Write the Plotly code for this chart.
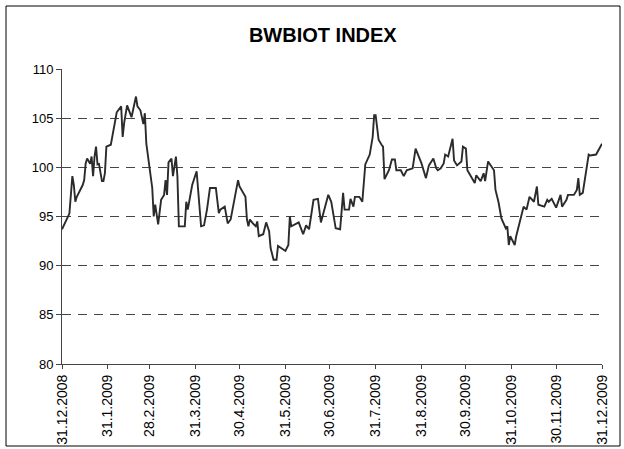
import plotly.graph_objects as go

# Kursverlauf BWBIOT INDEX
dates = [
    "2008-12-31", "2009-01-05", "2009-01-07", "2009-01-08", "2009-01-09", "2009-01-10",
    "2009-01-13", "2009-01-14", "2009-01-15", "2009-01-16", "2009-01-17", "2009-01-18",
    "2009-01-19", "2009-01-20", "2009-01-21", "2009-01-22", "2009-01-23", "2009-01-24",
    "2009-01-25", "2009-01-27", "2009-01-28", "2009-01-29", "2009-01-30", "2009-02-02",
    "2009-02-04", "2009-02-06", "2009-02-09", "2009-02-10", "2009-02-11", "2009-02-13",
    "2009-02-16", "2009-02-19", "2009-02-20", "2009-02-22", "2009-02-24", "2009-02-25",
    "2009-02-26", "2009-03-02", "2009-03-03", "2009-03-04", "2009-03-06", "2009-03-07",
    "2009-03-08", "2009-03-10", "2009-03-11", "2009-03-12", "2009-03-13", "2009-03-15",
    "2009-03-16", "2009-03-18", "2009-03-19", "2009-03-20", "2009-03-24", "2009-03-25",
    "2009-03-26", "2009-03-29", "2009-04-01", "2009-04-04", "2009-04-06", "2009-04-08",
    "2009-04-10", "2009-04-14", "2009-04-16", "2009-04-17", "2009-04-20", "2009-04-22",
    "2009-04-24", "2009-04-29", "2009-04-30", "2009-05-04", "2009-05-05", "2009-05-06",
    "2009-05-07", "2009-05-09", "2009-05-11", "2009-05-12", "2009-05-13", "2009-05-16",
    "2009-05-18", "2009-05-20", "2009-05-21", "2009-05-23", "2009-05-25", "2009-05-26",
    "2009-05-28", "2009-05-31", "2009-06-02", "2009-06-03", "2009-06-04", "2009-06-07",
    "2009-06-09", "2009-06-12", "2009-06-14", "2009-06-16", "2009-06-19", "2009-06-22",
    "2009-06-24", "2009-06-29", "2009-07-01", "2009-07-04", "2009-07-07", "2009-07-09",
    "2009-07-10", "2009-07-13", "2009-07-14", "2009-07-16", "2009-07-17", "2009-07-20",
    "2009-07-22", "2009-07-24", "2009-07-27", "2009-07-29", "2009-07-30", "2009-07-31",
    "2009-08-02", "2009-08-04", "2009-08-05", "2009-08-06", "2009-08-09", "2009-08-11",
    "2009-08-13", "2009-08-14", "2009-08-17", "2009-08-19", "2009-08-21", "2009-08-25",
    "2009-08-27", "2009-08-31", "2009-09-03", "2009-09-05", "2009-09-08", "2009-09-10",
    "2009-09-11", "2009-09-13", "2009-09-15", "2009-09-16", "2009-09-18", "2009-09-21",
    "2009-09-22", "2009-09-24", "2009-09-27", "2009-09-28", "2009-09-30", "2009-10-01",
    "2009-10-04", "2009-10-06", "2009-10-07", "2009-10-10", "2009-10-12", "2009-10-13",
    "2009-10-15", "2009-10-19", "2009-10-20", "2009-10-22", "2009-10-24", "2009-10-27",
    "2009-10-28", "2009-10-29", "2009-10-30", "2009-11-02", "2009-11-03", "2009-11-04",
    "2009-11-06", "2009-11-08", "2009-11-10", "2009-11-12", "2009-11-15", "2009-11-17",
    "2009-11-18", "2009-11-22", "2009-11-24", "2009-11-25", "2009-11-27", "2009-11-30",
    "2009-12-03", "2009-12-04", "2009-12-07", "2009-12-08", "2009-12-12", "2009-12-14",
    "2009-12-15", "2009-12-16", "2009-12-18", "2009-12-22", "2009-12-23", "2009-12-27",
    "2009-12-31",
]
values = [
    93.7, 95.3, 99.1, 98.2, 96.5, 97.0,
    97.9, 98.2, 98.7, 100.4, 100.9, 100.6,
    100.35, 101.1, 99.1, 101.1, 102.1, 100.3,
    100.35, 98.6, 98.6, 99.4, 102.1, 102.3,
    104.1, 105.6, 106.2, 103.1, 104.5, 106.3,
    105.1, 107.2, 106.2, 105.8, 104.4, 105.5,
    102.4, 97.9, 95.0, 96.2, 94.2, 95.35,
    96.7, 97.2, 98.7, 97.2, 100.5, 100.9,
    99.1, 101.1, 99.1, 94.0, 94.0, 96.5,
    95.7, 98.2, 99.6, 94.0, 94.1, 95.7,
    97.9, 97.9, 95.35, 95.7, 96.0, 94.3,
    94.7, 98.7, 98.05, 97.0, 94.7, 94.0,
    94.7, 94.3, 94.0, 94.5, 93.0, 93.2,
    94.4, 93.5, 91.8, 90.6, 90.6, 92.0,
    91.8, 91.5, 92.1, 95.0, 94.0, 94.2,
    94.4, 93.2, 94.1, 93.7, 96.7, 96.8,
    94.4, 97.2, 96.5, 93.8, 93.7, 97.4,
    95.7, 95.7, 96.8, 96.0, 97.0, 97.0,
    96.5, 100.3, 101.3, 103.1, 105.3, 105.3,
    102.8, 102.3, 102.1, 98.8, 99.7, 100.8,
    100.8, 99.7, 99.7, 99.1, 99.7, 99.9,
    101.9, 100.4, 98.9, 100.2, 100.9, 99.9,
    99.7, 99.9, 100.4, 101.3, 101.1, 102.9,
    100.7, 100.2, 100.6, 102.1, 101.9, 99.7,
    98.9, 98.4, 99.2, 98.6, 99.4, 98.6,
    100.6, 99.7, 97.7, 96.5, 94.8, 93.8,
    94.0, 92.1, 93.0, 92.1, 93.0, 93.7,
    94.8, 96.0, 95.7, 97.0, 96.5, 98.05,
    96.2, 96.0, 96.7, 96.5, 96.8, 95.9,
    97.2, 96.0, 96.7, 97.2, 97.2, 97.7,
    98.9, 97.2, 97.4, 101.3, 101.2, 101.3,
    102.4,
]

# Achsenbeschriftung: Monatsenden
tick_dates = [
    "2008-12-31", "2009-01-31", "2009-02-28", "2009-03-31", "2009-04-30", "2009-05-31",
    "2009-06-30", "2009-07-31", "2009-08-31", "2009-09-30", "2009-10-31", "2009-11-30",
    "2009-12-31",
]
tick_labels = [
    "31.12.2008", "31.1.2009", "28.2.2009", "31.3.2009", "30.4.2009", "31.5.2009",
    "30.6.2009", "31.7.2009", "31.8.2009", "30.9.2009", "31.10.2009", "30.11.2009",
    "31.12.2009",
]
y_ticks = [80, 85, 90, 95, 100, 105, 110]

AXIS_COLOR = "#444444"
FONT = "Liberation Sans, Arial, sans-serif"

fig = go.Figure(go.Scatter(
    x=dates,
    y=values,
    mode="lines",
    line=dict(color="#2b2b2b", width=1.9),
    hoverinfo="x+y",
))

fig.update_layout(
    width=624,
    height=449,
    paper_bgcolor="white",
    plot_bgcolor="white",
    showlegend=False,
    font=dict(family=FONT, color="black", size=13),
    margin=dict(l=62, r=22, t=69, b=85, autoexpand=False),
    title=dict(
        text="<b>BWBIOT INDEX</b>",
        x=0.483,
        xref="paper",
        xanchor="center",
        y=1 - 35 / 449,
        yref="container",
        yanchor="middle",
        font=dict(size=20, family=FONT, color="black"),
    ),
    xaxis=dict(
        range=["2008-12-31", "2009-12-31"],
        tickvals=tick_dates,
        ticktext=tick_labels,
        tickangle=-90,
        tickfont=dict(size=14),
        showgrid=False,
        showline=True,
        linecolor=AXIS_COLOR,
        linewidth=1,
        ticks="outside",
        ticklen=4,
        tickcolor=AXIS_COLOR,
        zeroline=False,
    ),
    yaxis=dict(
        range=[80, 110],
        tickvals=y_ticks,
        tickfont=dict(size=13),
        showgrid=True,
        gridcolor="#444444",
        gridwidth=1,
        griddash="9px,7px",
        showline=True,
        linecolor=AXIS_COLOR,
        linewidth=1,
        ticks="outside",
        ticklen=5,
        tickcolor=AXIS_COLOR,
        zeroline=False,
    ),
    shapes=[dict(
        type="rect",
        xref="paper",
        yref="paper",
        x0=(6 - 62) / 540,
        x1=(620 - 62) / 540,
        y0=(364 - 446) / 295,
        y1=(364 - 6) / 295,
        line=dict(color="black", width=1),
        layer="above",
    )],
)

# Body-Rand entfernen, damit die Grafik exakt im Fenster sitzt
fig.write_html(
    "out.html",
    config={"displayModeBar": False},
    post_script="document.body.style.margin='0';",
)
